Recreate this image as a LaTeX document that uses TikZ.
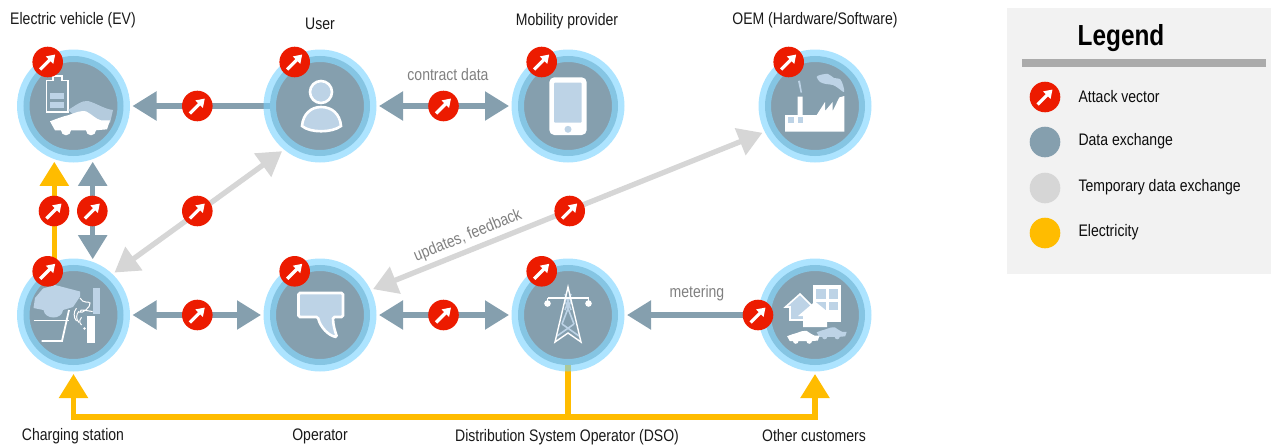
\documentclass[tikz,border=0pt]{standalone}
\usepackage{fontspec}
\setmainfont[FakeStretch=0.84]{Liberation Sans}
\usetikzlibrary{arrows.meta,backgrounds}
\definecolor{slate}{HTML}{859FAE}
\definecolor{midblue}{HTML}{85C5E3}
\definecolor{ringblue}{HTML}{76D2FF}
\definecolor{pale}{HTML}{BDD3E6}
\definecolor{attack}{HTML}{EC1B00}
\definecolor{temp}{HTML}{D6D6D6}
\definecolor{power}{HTML}{FFBC00}
\tikzset{
  hub/.style={circle,minimum size=113pt,inner sep=0pt,outer sep=2.5pt,fill=ringblue,fill opacity=.6},
  hubcore/.style={circle,minimum size=94pt,inner sep=0pt,fill=slate,draw=midblue,line width=6pt},
  badge/.style={circle,minimum size=30.6pt,inner sep=0pt,fill=attack,path picture={
    \draw[white,line width=3.2pt,-{Triangle[length=8pt,width=10pt]}]
      ([shift={(-7.5pt,-7.5pt)}]path picture bounding box.center) -- ([shift={(7.5pt,7.5pt)}]path picture bounding box.center);}},
  legdot/.style={circle,minimum size=30.6pt,inner sep=0pt},
  data/.style={draw=slate,line width=5.3pt},
  tempdata/.style={draw=temp,line width=5.3pt},
  elec/.style={draw=power,line width=5.3pt},
  title/.style={font=\fontsize{16.7}{19}\selectfont,text=black!90},
  note/.style={font=\fontsize{16.7}{19}\selectfont,text=black!50},
  legtext/.style={font=\fontsize{16.7}{19}\selectfont,text=black!95,anchor=west},
  car/.pic={
    \fill (-30,-2) .. controls (-22,-5) and (-17,-7) .. (-12,-8) .. controls (-4,-11) and (1,-13) .. (6,-12)
      .. controls (12,-9) and (16,-4) .. (21,-3) -- (30,-3) -- (27,6) -- (16,7)
      arc (0:180:5) -- (-9,7) arc (0:180:5) -- (-25,7) -- cycle;
  }
}
\begin{document}
\begin{tikzpicture}[x=1pt,y=-1pt,>={Triangle[length=24pt,width=28pt]}]
  \useasboundingbox (0,0) rectangle (1271,447);
  \node[hub] (ev) at (73.5,106) {};
  \node[hub] (user) at (320,106) {};
  \node[hub] (mobility) at (568,106) {};
  \node[hub] (oem) at (815,106) {};
  \node[hub] (cs) at (73.5,315) {};
  \node[hub] (operator) at (320,315) {};
  \node[hub] (dso) at (568,315) {};
  \node[hub] (others) at (815,315) {};
  \node[hubcore] (evcore) at (ev) {};
  \node[hubcore] (usercore) at (user) {};
  \node[hubcore] (mobilitycore) at (mobility) {};
  \node[hubcore] (oemcore) at (oem) {};
  \node[hubcore] (cscore) at (cs) {};
  \node[hubcore] (operatorcore) at (operator) {};
  \node[hubcore] (dsocore) at (dso) {};
  \node[hubcore] (otherscore) at (others) {};
  \coordinate (bus) at (568,417);
  \begin{scope}[on background layer]
    \draw[data,->,shorten <=-9pt] (user) to (ev);
    \draw[data,<->] (user) to (mobility);
    \draw[data,<->] (ev.-71) to (cs.71);
    \draw[data,<->] (cs) to (operator);
    \draw[data,<->] (operator) to (dso);
    \draw[data,->] (others) to (dso);
    \draw[tempdata,<->] (cs.46) to (user.-130);
    \draw[tempdata,<->] (operator.26) to (oem.207);
    \draw[elec,->] (cs.109) to (ev.-109);
    \draw[elec,->] (bus) -| (cs.south);
    \draw[elec,->] (bus) -| (others.south);
    \draw[elec,shorten <=-9pt] (dso.south) to (bus);
  \end{scope}

  % electric vehicle
  \draw[white,line width=1.8pt,fill=slate] (46.5,80.5) -- (53,80.5) -- (53,76) -- (62,76) -- (62,80.5) -- (68,80.5) -- (68,112) -- (46.5,112) -- cycle;
  \fill[pale] (50,93) rectangle (64,99);
  \fill[pale] (50,102) rectangle (64,108);
  \fill[pale,opacity=.85] (68,110) .. controls (75,106) and (82,100) .. (88,101) .. controls (96,103) and (104,109) .. (113,110) -- (110,123) -- (85,124) -- cycle;
  \pic[white] at (80,123.3) {car};
  % user
  \draw[white,line width=2.6pt,fill=pale] (321,92) circle (11);
  \draw[white,line width=2.6pt,fill=pale] (302,126) .. controls (303,114) and (311,107) .. (321,107) .. controls (332,107) and (340,114) .. (341,126) .. controls (332,133) and (310,133) .. (302,126) -- cycle;
  % mobility provider
  \fill[white,rounded corners=5pt] (549.3,77.3) rectangle (586.7,135);
  \fill[pale,rounded corners=1pt] (554,82.7) rectangle (581.7,122.7);
  \fill[pale] (568,129.3) circle (3.5);
  % oem
  \fill[white] (785,115) -- (797.7,115) -- (797.7,96.7) -- (802.7,96.7) -- (802.7,115) -- (816.7,115) -- (825,102) -- (825,111) -- (832.7,102) -- (832.7,111) -- (839.3,97.5) -- (844.3,96) -- (844.3,131.7) -- (785,131.7) -- cycle;
  \fill[pale] (788,117) rectangle (794,122.7);
  \fill[pale] (797.5,117) rectangle (802.7,122.7);
  \fill[pale] (798,81) -- (800,80.5) -- (802,92.5) -- (800.5,92.5) -- cycle;
  \fill[pale] plot[smooth cycle] coordinates {(816.7,77) (820,75) (828,74) (834,78) (840,79) (843,85) (844,92) (838,88) (833,85) (826,84) (820,82)};
  % charging station
  \fill[pale] (33.5,308) -- (35,298) -- (43,288.5) -- (55,285) -- (80,291.5) -- (80,296.5) -- (73,307) -- (63,310) .. controls (62,320) and (45,320) .. (43.5,310) -- cycle;
  \draw[white,line width=1.8pt] (33.5,320.5) -- (69,320.5);
  \draw[white,line width=1.8pt] (69,310) -- (62,341) -- (41.5,341);
  \fill[pale] (92.7,287.5) rectangle (100,313.5);
  \fill[white] (87.3,316) rectangle (95,342.7);
  \draw[white,line width=1pt] (80,298) .. controls (83,304) and (89,301) .. (90,303) .. controls (91,307) and (82,314) .. (80,312) .. controls (80,308) and (86,311) .. (92.7,311.5);
  \fill[white] (84.5,328.5) circle (1.3);
  \draw[white,line width=1pt] (81.5,325) arc (130:230:5);
  \draw[white,line width=1pt] (79,322.5) arc (135:225:8);
  \draw[white,line width=1pt] (76.5,321) arc (140:220:10);
  % operator
  \draw[white,line width=2.6pt,fill=pale,rounded corners=1.5pt] (298.5,293) -- (343,293) -- (343,317) -- (333,317) .. controls (333,325) and (335,331) .. (337,337) .. controls (329,336) and (320,327) .. (318,317) -- (298.5,317) -- cycle;
  % dso
  \draw[pale,line width=1.6pt] (564.8,300) -- (574,324) (571.2,300) -- (562,324) (562,324) -- (579,336) (574,324) -- (557,336) (566,306) -- (570,306);
  \draw[pale,line width=1.6pt] (565,294) -- (571,310) (571,294) -- (565,310);
  \draw[white,line width=1.4pt] (555,342) -- (568,287) -- (581,342) -- (568,333) -- cycle;
  \draw[white,line width=1.4pt] (547.5,298) -- (588.5,298);
  \draw[white,line width=1.2pt] (547.5,298) -- (547.5,303);
  \draw[white,line width=1.2pt] (588.5,298) -- (588.5,303);
  \fill[white] (547.5,303.5) circle (3.3);
  \fill[white] (588.5,303.5) circle (3.3);
  % other customers
  \fill[white] (812.7,285) rectangle (840.7,321.7);
  \fill[pale] (816,289) rectangle (826,299);
  \fill[pale] (829,289) rectangle (837.5,299);
  \fill[pale] (816,302) rectangle (826,310);
  \fill[pale] (829,302) rectangle (837.5,310);
  \draw[white,line width=1.6pt,fill=pale] (785.5,307) -- (800,294) -- (813,307) -- (813,320) -- (790,320) -- (790,307) -- cycle;
  \fill[white] (798,316) -- (815,301.5) -- (833,316) -- (827,316) -- (827,327) -- (803,327) -- (803,316) -- cycle;
  \pic[pale,scale=.5] at (831.7,333.3) {car};
  \pic[white,scale=.54] at (803.3,337.3) {car};

  \node[badge] (attackev) at (47.7,62) {};
  \node[badge] (attackuser) at (294.7,62) {};
  \node[badge] (attackmobility) at (541.7,62) {};
  \node[badge] (attackoem) at (788.7,62) {};
  \node[badge] (attackcs) at (47.7,271.3) {};
  \node[badge] (attackoperator) at (294.7,271.3) {};
  \node[badge] (attackdso) at (541.7,271.3) {};
  \node[badge] (attackothers) at (758,315) {};
  \node[badge] (attackuserev) at (197.3,106) {};
  \node[badge] (attackcontract) at (443.5,106) {};
  \node[badge] (attackpower) at (54,211) {};
  \node[badge] (attackevcs) at (92.3,211) {};
  \node[badge] (attackcsuser) at (197.3,211) {};
  \node[badge] (attackupdates) at (569.7,211) {};
  \node[badge] (attackcsop) at (197.3,315) {};
  \node[badge] (attackopdso) at (443.5,315) {};

  \node[title] (labelev) at (73,20) {Electric vehicle (EV)};
  \node[title] (labeluser) at (320,24) {User};
  \node[title] (labelmobility) at (567,21) {Mobility provider};
  \node[title] (labeloem) at (815,20) {OEM (Hardware/Software)};
  \node[title] (labelcs) at (73,436) {Charging station};
  \node[title] (labeloperator) at (320,436) {Operator};
  \node[title] (labeldso) at (567,437) {Distribution System Operator (DSO)};
  \node[title] (labelothers) at (814,436) {Other customers};
  \node[note] (labelcontract) at (448,75) {contract data};
  \node[note] (labelmetering) at (697,293) {metering};
  \node[note,rotate=22] (labelupdates) at (468,236) {updates, feedback};

  \fill[black!5] (1007,8) rectangle (1271,274);
  \fill[black!33] (1022,59) rectangle (1266,67);
  \node[font=\fontsize{29}{32}\selectfont\bfseries] (legendtitle) at (1121,38) {Legend};
  \node[badge] (legattack) at (1045,97) {};
  \node[legdot,fill=slate] (legdata) at (1045,142) {};
  \node[legdot,fill=temp] (legtemp) at (1045,188) {};
  \node[legdot,fill=power] (legpower) at (1045,233) {};
  \node[legtext] (legtextattack) at (1075,97) {Attack vector};
  \node[legtext] (legtextdata) at (1075,141) {Data exchange};
  \node[legtext] (legtexttemp) at (1075,187) {Temporary data exchange};
  \node[legtext] (legtextpower) at (1075,232) {Electricity};
\end{tikzpicture}
\end{document}
